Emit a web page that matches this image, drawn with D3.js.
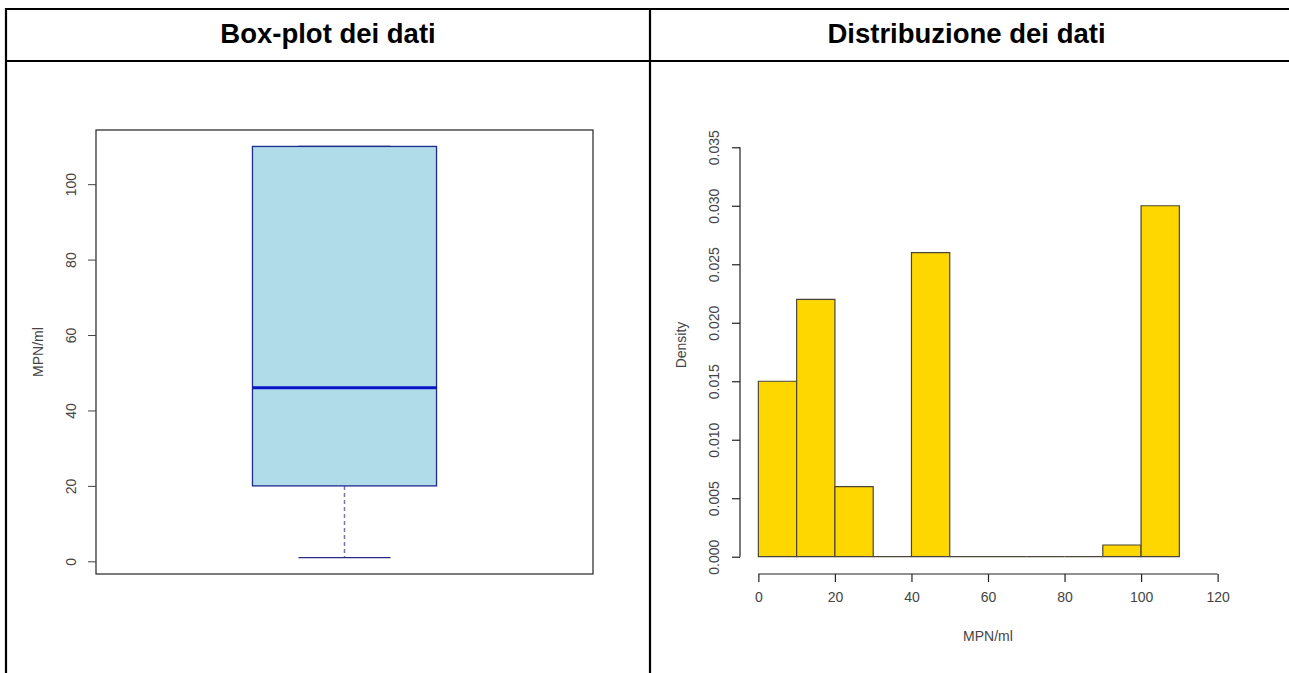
<!DOCTYPE html>
<html>
<head>
<meta charset="utf-8">
<script src="https://cdn.jsdelivr.net/npm/d3@7"></script>
<style>
  html, body { margin: 0; padding: 0; background: #fff; }
  svg { display: block; }
  text { font-family: "Liberation Sans", Arial, sans-serif; }
</style>
</head>
<body>
<svg id="chart" width="1289" height="673"></svg>
<script>
// ---- data ----
const panelTitles = ["Box-plot dei dati", "Distribuzione dei dati"];

// box-plot five-number summary (MPN/ml)
const boxStatNames = ["min", "q1", "median", "q3", "max"];
const boxStatValues = [1, 20, 46, 110, 110];
const boxTicks = [0, 20, 40, 60, 80, 100];

// histogram: bin edges and densities
const binStarts = [0, 10, 20, 30, 40, 50, 60, 70, 80, 90, 100];
const binEnds = [10, 20, 30, 40, 50, 60, 70, 80, 90, 100, 110];
const binDensity = [0.015, 0.022, 0.006, 0, 0.026, 0, 0, 0, 0, 0.001, 0.030];
const histXTicks = [0, 20, 40, 60, 80, 100, 120];
const histYTicks = [0, 0.005, 0.010, 0.015, 0.020, 0.025, 0.030, 0.035];

const axisLabel = "MPN/ml";
const densityLabel = "Density";

const svg = d3.select("#chart");
const tickColor = "#444";
const fontSize = "14px";

// ---- table frame ----
const frame = svg.append("g").attr("stroke", "#000").attr("stroke-width", 2.2);
frame.append("line").attr("x1", 6).attr("x2", 1289).attr("y1", 9).attr("y2", 9);
frame.append("line").attr("x1", 6).attr("x2", 1289).attr("y1", 61).attr("y2", 61);
frame.append("line").attr("x1", 6).attr("x2", 6).attr("y1", 8).attr("y2", 673);
frame.append("line").attr("x1", 650).attr("x2", 650).attr("y1", 8).attr("y2", 673);

const titleX = [328, 966.5];
panelTitles.forEach((t, i) => {
  svg.append("text")
    .attr("x", titleX[i]).attr("y", 43)
    .attr("text-anchor", "middle")
    .attr("font-weight", "bold")
    .attr("font-size", "27.5px")
    .attr("fill", "#000")
    .text(t);
});

// ---- left panel: box plot ----
const stats = Object.fromEntries(boxStatNames.map((n, i) => [n, boxStatValues[i]]));
const bRange = stats.max - stats.min;
const by = d3.scaleLinear()
  .domain([stats.min - 0.04 * bRange, stats.max + 0.04 * bRange])
  .range([574, 130]);
const bx = d3.scaleLinear().domain([0.46, 1.54]).range([96, 593]);

const left = svg.append("g");
left.append("rect")
  .attr("x", 96).attr("y", 130).attr("width", 593 - 96).attr("height", 574 - 130)
  .attr("fill", "none").attr("stroke", "#222").attr("stroke-width", 1.2);

const yAxisB = d3.axisLeft(by).tickValues(boxTicks).tickSize(8).tickPadding(0).tickFormat(d3.format("d"));
const gB = left.append("g").attr("transform", "translate(96,0)").call(yAxisB);
gB.select(".domain").remove();
gB.selectAll(".tick line").attr("stroke", "#444");
gB.selectAll(".tick text")
  .attr("x", 0).attr("dy", null)
  .attr("transform", "translate(-25,0) rotate(-90)")
  .attr("text-anchor", "middle")
  .attr("dominant-baseline", "central")
  .attr("fill", tickColor).attr("font-size", fontSize)
  .attr("font-family", "Liberation Sans, Arial, sans-serif");

// whisker (dashed) and staples
left.append("line")
  .attr("x1", bx(1)).attr("x2", bx(1))
  .attr("y1", by(stats.q1)).attr("y2", by(stats.min))
  .attr("stroke", "#7878a0").attr("stroke-width", 1.5).attr("stroke-dasharray", "4,3");
left.append("line")
  .attr("x1", bx(0.9)).attr("x2", bx(1.1))
  .attr("y1", by(stats.min)).attr("y2", by(stats.min))
  .attr("stroke", "#2a2a80").attr("stroke-width", 1.3);
left.append("line")
  .attr("x1", bx(0.9)).attr("x2", bx(1.1))
  .attr("y1", by(stats.max)).attr("y2", by(stats.max))
  .attr("stroke", "#2a2a80").attr("stroke-width", 1.3);

// box
left.append("rect")
  .attr("x", bx(0.8)).attr("y", by(stats.q3))
  .attr("width", bx(1.2) - bx(0.8)).attr("height", by(stats.q1) - by(stats.q3))
  .attr("fill", "#b0dcea").attr("stroke", "#1e2a8c").attr("stroke-width", 1.3);
// median
left.append("line")
  .attr("x1", bx(0.8)).attr("x2", bx(1.2))
  .attr("y1", by(stats.median)).attr("y2", by(stats.median))
  .attr("stroke", "#0a14c8").attr("stroke-width", 3);

left.append("text")
  .attr("transform", "translate(38,352) rotate(-90)")
  .attr("text-anchor", "middle").attr("dominant-baseline", "central")
  .attr("fill", tickColor).attr("font-size", fontSize)
  .text(axisLabel);

// ---- right panel: histogram ----
const hx = d3.scaleLinear().domain([-4.8, 124.8]).range([740, 1236]);
const hy = d3.scaleLinear().domain([-0.0014, 0.0364]).range([573.1, 130.9]);
const right = svg.append("g");

const bins = binStarts.map((s, i) => ({ x0: s, x1: binEnds[i], d: binDensity[i] }));
right.selectAll("path.bar").data(bins).join("path")
  .attr("class", "bar")
  .attr("d", b => `M${hx(b.x0)},${hy(0)}V${hy(b.d)}H${hx(b.x1)}V${hy(0)}Z`)
  .attr("fill", "#ffd700").attr("stroke", "#4a4538").attr("stroke-width", 1.2);

const xAxisH = d3.axisBottom(hx).tickValues(histXTicks).tickSize(8).tickPadding(10).tickFormat(d3.format("d"));
const gX = right.append("g").attr("transform", "translate(0,574)").call(xAxisH);
gX.select(".domain").attr("d", `M${hx(0)},0H${hx(120)}`).attr("stroke", "#222").attr("stroke-width", 1.2);
gX.selectAll(".tick line").attr("stroke", "#222").attr("stroke-width", 1.2);
gX.selectAll(".tick text")
  .attr("fill", tickColor).attr("font-size", fontSize)
  .attr("font-family", "Liberation Sans, Arial, sans-serif");

const yAxisH = d3.axisLeft(hy).tickValues(histYTicks).tickSize(8).tickFormat(d3.format(".3f"));
const gY = right.append("g").attr("transform", "translate(740,0)").call(yAxisH);
gY.select(".domain").attr("d", `M0,${hy(0)}V${hy(0.035)}`).attr("stroke", "#222").attr("stroke-width", 1.2);
gY.selectAll(".tick line").attr("stroke", "#222").attr("stroke-width", 1.2);
gY.selectAll(".tick text")
  .attr("x", 0).attr("dy", null)
  .attr("transform", "translate(-26,0) rotate(-90)")
  .attr("text-anchor", "middle")
  .attr("dominant-baseline", "central")
  .attr("fill", tickColor).attr("font-size", fontSize)
  .attr("font-family", "Liberation Sans, Arial, sans-serif");

right.append("text")
  .attr("x", 988).attr("y", 636)
  .attr("text-anchor", "middle").attr("dominant-baseline", "central")
  .attr("fill", tickColor).attr("font-size", fontSize)
  .text(axisLabel);
right.append("text")
  .attr("transform", "translate(681,345) rotate(-90)")
  .attr("text-anchor", "middle").attr("dominant-baseline", "central")
  .attr("fill", tickColor).attr("font-size", fontSize)
  .text(densityLabel);
</script>
</body>
</html>
